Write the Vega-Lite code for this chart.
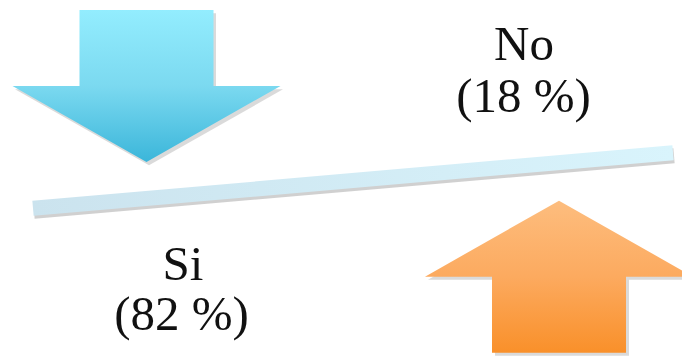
{
  "$schema": "https://vega.github.io/schema/vega-lite/v6.json",
  "autosize": {"type": "none"},
  "width": 640,
  "height": 87,
  "padding": {"left": 33, "top": 137, "right": 9, "bottom": 132},
  "background": "white",
  "config": {"view": {"stroke": null}},
  "data": {"values": [
    {"answer": "Si", "pct": 82, "label": "(82 %)"},
    {"answer": "No", "pct": 18, "label": "(18 %)"}
  ]},
  "encoding": {
    "x": {"field": "answer", "type": "nominal", "axis": null, "scale": {"type": "point", "domain": ["Si", "No"], "padding": 0}},
    "y": {"field": "pct", "type": "quantitative", "axis": null, "scale": {"domain": [0, 100], "reverse": true, "nice": false, "zero": false}}
  },
  "layer": [
    {
      "transform": [{"filter": "datum.answer === 'Si'"}],
      "mark": {"type": "point", "filled": true, "opacity": 0.22, "color": "#555555", "strokeWidth": 0, "size": 71824, "xOffset": 116, "yOffset": -119,
        "shape": "M -0.5 -0.567 L 0.5 -0.567 L 0.5 0 L 1 0 L 0 0.567 L -1 0 L -0.5 0 Z"}
    },
    {
      "transform": [{"filter": "datum.answer === 'Si'"}],
      "mark": {"type": "point", "filled": true, "opacity": 1, "strokeWidth": 0, "size": 71824, "xOffset": 113.5, "yOffset": -122.4,
        "shape": "M -0.5 -0.567 L 0.5 -0.567 L 0.5 0 L 1 0 L 0 0.567 L -1 0 L -0.5 0 Z",
        "fill": {"gradient": "linear", "x1": 0, "y1": 0, "x2": 0, "y2": 1, "stops": [
          {"offset": 0, "color": "#93edfe"}, {"offset": 0.5, "color": "#7bd9f0"}, {"offset": 1, "color": "#3bb6da"}]}}
    },
    {
      "transform": [{"filter": "datum.answer === 'No'"}],
      "mark": {"type": "point", "filled": true, "opacity": 0.22, "color": "#555555", "strokeWidth": 0, "size": 71824, "xOffset": -111, "yOffset": 127,
        "shape": "M 0 -0.567 L 1 0 L 0.5 0 L 0.5 0.567 L -0.5 0.567 L -0.5 0 L -1 0 Z"}
    },
    {
      "transform": [{"filter": "datum.answer === 'No'"}],
      "mark": {"type": "point", "filled": true, "opacity": 1, "strokeWidth": 0, "size": 71824, "xOffset": -114, "yOffset": 124,
        "shape": "M 0 -0.567 L 1 0 L 0.5 0 L 0.5 0.567 L -0.5 0.567 L -0.5 0 L -1 0 Z",
        "fill": {"gradient": "linear", "x1": 0, "y1": 0, "x2": 0, "y2": 1, "stops": [
          {"offset": 0, "color": "#fdbd7e"}, {"offset": 0.5, "color": "#fcaa5f"}, {"offset": 1, "color": "#f9902a"}]}}
    },
    {
      "mark": {"type": "line", "strokeWidth": 15, "strokeCap": "butt", "color": "#777777", "opacity": 0.35, "yOffset": 3, "xOffset": 1}
    },
    {
      "mark": {"type": "line", "strokeWidth": 15, "strokeCap": "butt", "opacity": 1,
        "stroke": {"gradient": "linear", "x1": 0, "y1": 0, "x2": 1, "y2": 0, "stops": [
          {"offset": 0, "color": "#cbe3ee"}, {"offset": 1, "color": "#d9f4fc"}]}}
    },
    {
      "transform": [{"filter": "datum.answer === 'Si'"}],
      "mark": {"type": "text", "font": "Liberation Serif", "fontSize": 49, "color": "#111111", "align": "center", "baseline": "alphabetic", "dx": 150, "dy": 71.6},
      "encoding": {"text": {"field": "answer"}}
    },
    {
      "transform": [{"filter": "datum.answer === 'Si'"}],
      "mark": {"type": "text", "font": "Liberation Serif", "fontSize": 49, "color": "#111111", "align": "center", "baseline": "alphabetic", "dx": 148.5, "dy": 121.6},
      "encoding": {"text": {"field": "label"}}
    },
    {
      "transform": [{"filter": "datum.answer === 'No'"}],
      "mark": {"type": "text", "font": "Liberation Serif", "fontSize": 49, "color": "#111111", "align": "center", "baseline": "alphabetic", "dx": -149, "dy": -92.5},
      "encoding": {"text": {"field": "answer"}}
    },
    {
      "transform": [{"filter": "datum.answer === 'No'"}],
      "mark": {"type": "text", "font": "Liberation Serif", "fontSize": 49, "color": "#111111", "align": "center", "baseline": "alphabetic", "dx": -149.5, "dy": -40.5},
      "encoding": {"text": {"field": "label"}}
    }
  ]
}
